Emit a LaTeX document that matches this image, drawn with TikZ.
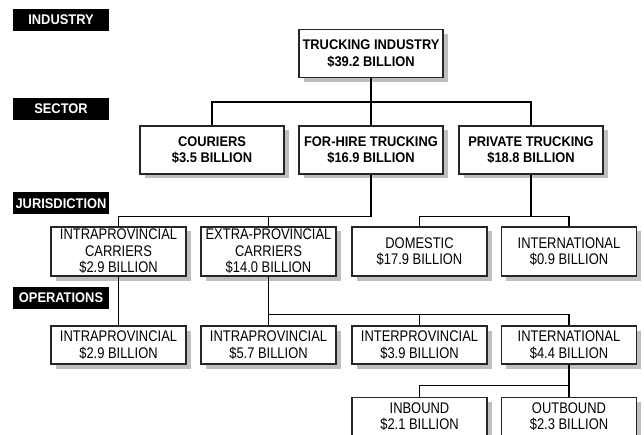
\documentclass[tikz,border=0pt]{standalone}
\usepackage{fontspec}
\setmainfont{Liberation Sans}
\newfontfamily\narrowfont[FakeStretch=0.84]{Liberation Sans}
\newfontfamily\anchafont[FakeStretch=0.92]{Liberation Sans}
\usetikzlibrary{shadows}

\begin{document}
\begin{tikzpicture}[x=1pt, y=-1pt, line width=1.2pt,
    nivel/.style={fill=black, text=white, font=\anchafont\bfseries\fontsize{14}{16.5}\selectfont,
        minimum width=96pt, minimum height=22pt, inner sep=0pt},
    caja/.style={draw=black!85, fill=white, align=center, inner sep=0pt,
        drop shadow={shadow xshift=4.5pt, shadow yshift=-4.5pt, fill=black!25, opacity=1}},
    grande/.style={caja, font=\anchafont\bfseries\fontsize{14}{16.5}\selectfont,
        minimum width=144pt, minimum height=48pt},
    chica/.style={caja, font=\narrowfont\fontsize{15.4}{16.5}\selectfont,
        minimum width=135pt, minimum height=49pt},
    chicados/.style={chica, minimum height=38pt}]
    \useasboundingbox (0,0) rectangle (644,435);

    % Niveles
    \node[nivel] (lindustry) at (61,20) {INDUSTRY};
    \node[nivel] (lsector) at (61,109) {SECTOR};
    \node[nivel] (ljuris) at (61,203.5) {JURISDICTION};
    \node[nivel] (loper) at (61,298) {OPERATIONS};

    % Cajas
    \node[grande] (truck) at (371,53.5) {TRUCKING INDUSTRY\\\$39.2 BILLION};
    \node[grande] (couriers) at (212,150) {COURIERS\\\$3.5 BILLION};
    \node[grande] (forhire) at (371,150) {FOR-HIRE TRUCKING\\\$16.9 BILLION};
    \node[grande] (private) at (531,150) {PRIVATE TRUCKING\\\$18.8 BILLION};

    \node[chica] (intrac) at (118.5,251.5) {INTRAPROVINCIAL\\CARRIERS\\\$2.9 BILLION};
    \node[chica] (extrac) at (268.5,251.5) {EXTRA-PROVINCIAL\\CARRIERS\\\$14.0 BILLION};
    \node[chica] (domestic) at (419.5,251.5) {DOMESTIC\\\$17.9 BILLION};
    \node[chica] (intlj) at (569,251.5) {INTERNATIONAL\\\$0.9 BILLION};

    \node[chicados] (intrao) at (118.5,345) {INTRAPROVINCIAL\\\$2.9 BILLION};
    \node[chicados] (intrap) at (268.5,345) {INTRAPROVINCIAL\\\$5.7 BILLION};
    \node[chicados] (interp) at (419.5,345) {INTERPROVINCIAL\\\$3.9 BILLION};
    \node[chicados] (intlo) at (569,345) {INTERNATIONAL\\\$4.4 BILLION};

    \node[chicados] (inbound) at (419.5,416.5) {INBOUND\\\$2.1 BILLION};
    \node[chicados] (outbound) at (569,416.5) {OUTBOUND\\\$2.3 BILLION};

    % Conexiones
    \draw (truck.south) -- ++(0,24) -| (couriers.north);
    \draw (truck.south) -- ++(0,24) -| (private.north);
    \draw (truck) -- (forhire);
    \draw (forhire.south) -- ++(0,42) -| (intrac.north);
    \draw (forhire.south) -- ++(0,42) -| (extrac.north);
    \draw (private.south) -- ++(0,42) -| (domestic.north);
    \draw (private.south) -- ++(0,42) -| (intlj.north);
    \draw (intrac) -- (intrao);
    \draw (extrac) -- (intrap);
    \draw (extrac.south) -- ++(0,38) -| (interp.north);
    \draw (extrac.south) -- ++(0,38) -| (intlo.north);
    \draw (intlo.south) -- ++(0,21) -| (inbound.north);
    \draw (intlo) -- (outbound);
\end{tikzpicture}
\end{document}
